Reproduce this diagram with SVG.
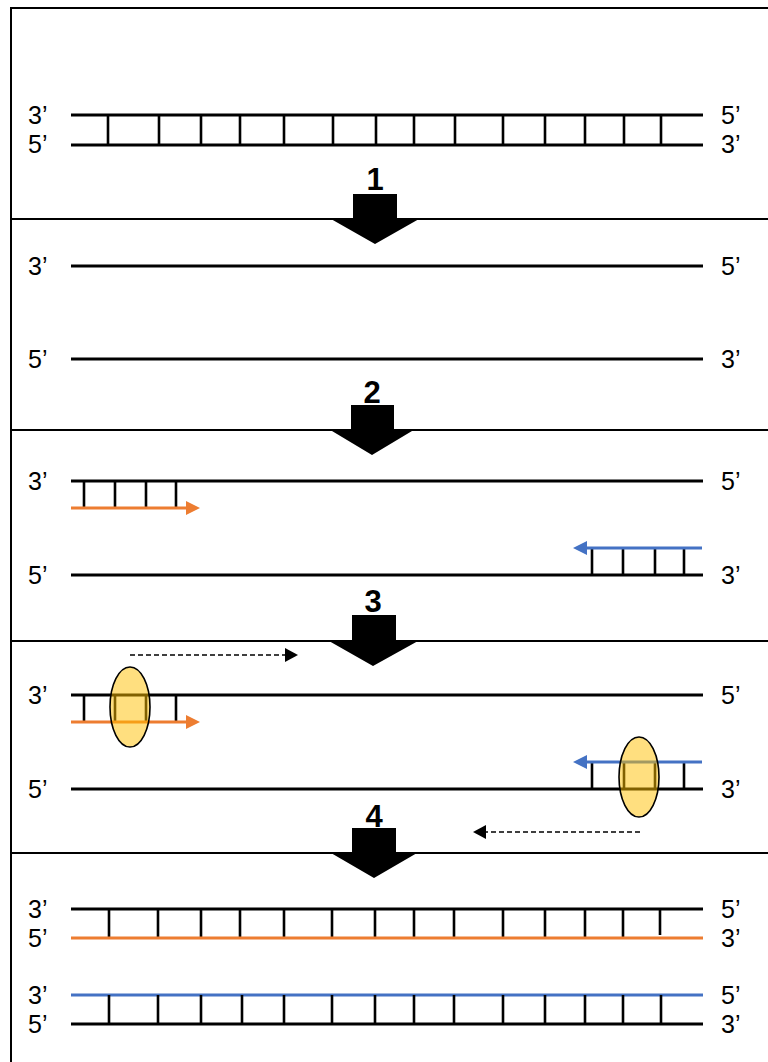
<svg xmlns="http://www.w3.org/2000/svg" width="768" height="1062" viewBox="0 0 768 1062">
<style>
.lbl{font-family:"Liberation Sans",Arial,sans-serif;font-size:25px;fill:#000}
.num{font-family:"Liberation Sans",Arial,sans-serif;font-size:31px;font-weight:bold;fill:#000;text-anchor:middle}
.strand{stroke:#000;stroke-width:3;fill:none}
.rung{stroke:#000;stroke-width:2.6;fill:none}
.div{stroke:#000;stroke-width:2;fill:none}
.org{stroke:#ED7D31;stroke-width:3;fill:none}
.blu{stroke:#4472C4;stroke-width:3;fill:none}
.dash{stroke:#000;stroke-width:1.6;stroke-dasharray:5,3;fill:none}
.pol{fill:#FFC000;fill-opacity:0.5;stroke:#000;stroke-width:1.6}
</style>
<rect x="0" y="0" width="768" height="1062" fill="#fff"/>
<g id="frame">
<path class="div" d="M11,1070 V8 H775"/>
<line class="div" x1="11" y1="219" x2="768" y2="219"/>
<line class="div" x1="11" y1="430" x2="768" y2="430"/>
<line class="div" x1="11" y1="641" x2="768" y2="641"/>
<line class="div" x1="11" y1="853" x2="768" y2="853"/>
</g>
<g id="panel1">
<line class="strand" x1="71" y1="115" x2="703" y2="115"/>
<line class="strand" x1="71" y1="145" x2="703" y2="145"/>
<path class="rung" d="M108,115V145M159,115V145M201,115V145M240,115V145M284,115V145M333,115V145M376,115V145M414,115V145M455,115V145M503,115V145M545,115V145M585,115V145M624,115V145M661,115V145"/>
<text class="lbl" x="28" y="124">3’</text>
<text class="lbl" x="28" y="153">5’</text>
<text class="lbl" x="721" y="124">5’</text>
<text class="lbl" x="721" y="153">3’</text>
</g>
<g id="panel2">
<line class="strand" x1="71" y1="266" x2="703" y2="266"/>
<line class="strand" x1="71" y1="359" x2="703" y2="359"/>
<text class="lbl" x="28" y="275">3’</text>
<text class="lbl" x="28" y="368">5’</text>
<text class="lbl" x="721" y="275">5’</text>
<text class="lbl" x="721" y="368">3’</text>
</g>
<g id="panel3">
<line class="strand" x1="71" y1="481" x2="703" y2="481"/>
<line class="strand" x1="71" y1="575" x2="703" y2="575"/>
<path class="rung" d="M84,481V508M115,481V508M146,481V508M176,481V508"/>
<line class="org" x1="71" y1="508" x2="188" y2="508"/>
<polygon points="186,501 200,508 186,515" fill="#ED7D31"/>
<path class="rung" d="M592,548V575M623,548V575M655,548V575M684,548V575"/>
<line class="blu" x1="702" y1="548" x2="585" y2="548"/>
<polygon points="587,541 573,548 587,555" fill="#4472C4"/>
<text class="lbl" x="28" y="490">3’</text>
<text class="lbl" x="28" y="584">5’</text>
<text class="lbl" x="721" y="490">5’</text>
<text class="lbl" x="721" y="584">3’</text>
</g>
<g id="panel4">
<line class="strand" x1="71" y1="695" x2="703" y2="695"/>
<line class="strand" x1="71" y1="789" x2="703" y2="789"/>
<path class="rung" d="M84,695V722M115,695V722M146,695V722M176,695V722"/>
<line class="org" x1="71" y1="722" x2="188" y2="722"/>
<polygon points="186,715 200,722 186,729" fill="#ED7D31"/>
<ellipse class="pol" cx="130" cy="707" rx="20" ry="40"/>
<path class="rung" d="M592,762V789M624,762V789M655,762V789M684,762V789"/>
<line class="blu" x1="702" y1="762" x2="585" y2="762"/>
<polygon points="587,755 573,762 587,769" fill="#4472C4"/>
<ellipse class="pol" cx="639" cy="777" rx="20" ry="40"/>
<text class="lbl" x="28" y="704">3’</text>
<text class="lbl" x="28" y="798">5’</text>
<text class="lbl" x="721" y="704">5’</text>
<text class="lbl" x="721" y="798">3’</text>
</g>
<g id="panel5">
<line class="strand" x1="71" y1="909" x2="703" y2="909"/>
<path class="rung" d="M109,909V938M158,909V938M201,909V938M240,909V938M284,909V938M332,909V938M375,909V938M414,909V938M454,909V938M503,909V938M545,909V938M585,909V938M623,909V938M660,909V935"/>
<line class="org" x1="71" y1="938" x2="703" y2="938"/>
<line class="blu" x1="71" y1="995" x2="703" y2="995"/>
<path class="rung" d="M109,995V1024M158,995V1024M201,995V1024M242,995V1024M284,995V1024M332,995V1024M375,995V1024M414,995V1024M454,995V1024M503,995V1024M545,995V1024M585,995V1024M623,995V1024M661,995V1024"/>
<line class="strand" x1="71" y1="1024" x2="703" y2="1024"/>
<text class="lbl" x="28" y="918">3’</text>
<text class="lbl" x="28" y="947">5’</text>
<text class="lbl" x="28" y="1004">3’</text>
<text class="lbl" x="28" y="1033">5’</text>
<text class="lbl" x="721" y="918">5’</text>
<text class="lbl" x="721" y="947">3’</text>
<text class="lbl" x="721" y="1004">5’</text>
<text class="lbl" x="721" y="1033">3’</text>
</g>
<g id="connectors">
<g id="step1">
<polygon points="353,194 397,194 397,219 419,219 375,244 331,219 353,219" fill="#000"/>
<text class="num" x="375" y="190">1</text>
</g>
<g id="step2">
<polygon points="351,405 394,405 394,431 412,431 372,455 332,431 351,431" fill="#000"/>
<text class="num" x="372" y="403">2</text>
</g>
<g id="step3">
<polygon points="352,615 396,615 396,641 418,641 373,666 329,641 352,641" fill="#000"/>
<text class="num" x="373" y="612">3</text>
</g>
<g id="step4">
<polygon points="352,828 396,828 396,853 417,853 374,878 331,853 352,853" fill="#000"/>
<text class="num" x="374" y="827">4</text>
</g>
<g id="extension">
<line class="dash" x1="130" y1="655" x2="286" y2="655"/>
<polygon points="285,648 298,655 285,662" fill="#000"/>
<line class="dash" x1="640" y1="832" x2="485" y2="832"/>
<polygon points="486,825 473,832 486,839" fill="#000"/>
</g>
</g>
</svg>
